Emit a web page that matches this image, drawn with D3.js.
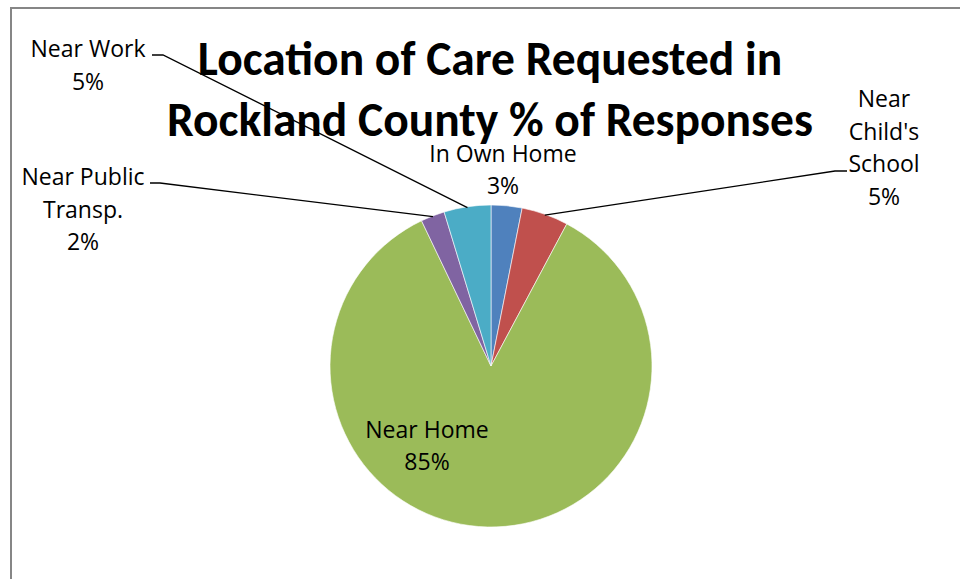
<!DOCTYPE html>
<html>
<head>
<meta charset="utf-8">
<script src="https://cdn.jsdelivr.net/npm/d3@7"></script>
<style>
  html, body { margin: 0; padding: 0; background: #fff; }
  svg { display: block; }
  text { fill: #000; }
  .title { font-family: Carlito, Lato, sans-serif; }
  .lbl { font-family: "Open Sans", Lato, sans-serif; }
</style>
</head>
<body>
<svg id="chart" width="960" height="579"></svg>
<script>
// Data
const categories = ["In Own Home", "Near Child's School", "Near Home", "Near Public Transp.", "Near Work"];
const values = [3.1, 4.7, 85.1, 2.4, 4.7];
const pctLabels = ["3%", "5%", "85%", "2%", "5%"];
const colors = ["#4F81BD", "#C0504D", "#9BBB59", "#8064A2", "#4BACC6"];
const titleLines = ["Location of Care Requested in", "Rockland County % of Responses"];

const svg = d3.select("#chart");

// chart area border (extends beyond right/bottom)
svg.append("rect")
  .attr("x", 11).attr("y", 8).attr("width", 1000).attr("height", 600)
  .attr("fill", "#fff").attr("stroke", "#868686").attr("stroke-width", 2);

const cx = 491, cy = 366, r = 161;
const data = categories.map((c, i) => ({ cat: c, value: values[i], pct: pctLabels[i], color: colors[i] }));

const pie = d3.pie().value(d => d.value).sort(null);
const arcs = pie(data);
const arc = d3.arc().innerRadius(0).outerRadius(r);

const g = svg.append("g").attr("transform", `translate(${cx},${cy})`);
g.selectAll("path").data(arcs).enter().append("path")
  .attr("d", arc)
  .attr("fill", d => d.data.color)
  .attr("stroke", "#fff").attr("stroke-width", 0.6);

// label layout (positions only)
const labelLayout = [
  { lines: ["In Own Home", "3%"], x: 503, y: 162, lh: 31.5, leader: null },
  { lines: ["Near", "Child's", "School", "5%"], x: 884, y: 107, lh: 32.5, leader: { lx: 847, ly: 171, hx: 835 } },
  { lines: ["Near Home", "85%"], x: 427, y: 438, lh: 31.5, leader: null },
  { lines: ["Near Public", "Transp.", "2%"], x: 83, y: 185, lh: 32.5, leader: { lx: 150, ly: 183, hx: 160 } },
  { lines: ["Near Work", "5%"], x: 88, y: 57, lh: 33, leader: { lx: 152, ly: 55, hx: 163 } }
];

const labelsG = svg.append("g");
arcs.forEach((a, i) => {
  const L = labelLayout[i];
  if (L.leader) {
    const mid = (a.startAngle + a.endAngle) / 2;
    const ex = cx + Math.sin(mid) * r * 0.995;
    const ey = cy - Math.cos(mid) * r * 0.995;
    labelsG.append("polyline")
      .attr("points", `${L.leader.lx},${L.leader.ly} ${L.leader.hx},${L.leader.ly} ${ex},${ey}`)
      .attr("fill", "none").attr("stroke", "#000").attr("stroke-width", 1.3);
  }
});

// Title
const title = svg.append("g");
const tBase = [75, 136];
titleLines.forEach((t, i) => {
  title.append("text")
    .attr("class", "title")
    .attr("x", 490).attr("y", tBase[i])
    .attr("text-anchor", "middle")
    .attr("font-weight", "bold")
    .attr("font-size", 47.5)
    .text(t);
});

arcs.forEach((a, i) => {
  const L = labelLayout[i];
  const textLines = L.lines.slice(0, -1).concat([a.data.pct]);
  textLines.forEach((ln, j) => {
    labelsG.append("text")
      .attr("class", "lbl")
      .attr("x", L.x).attr("y", L.y + j * L.lh)
      .attr("text-anchor", "middle")
      .attr("font-size", 23)
      .text(ln);
  });
});
</script>
</body>
</html>
